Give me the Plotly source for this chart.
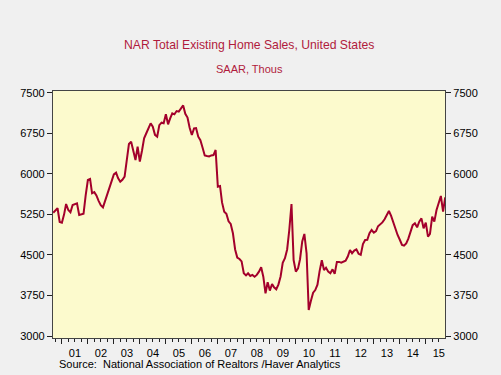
import pandas as pd
import plotly.graph_objects as go

# Monthly, Aug 2000 - Sep 2015 (SAAR, thousands)
start_month = "2000-08-01"
sales = [
    5280, 5320, 5362, 5110, 5096, 5250, 5441, 5330, 5288, 5423, 5440, 5454,
    5238, 5250, 5260, 5600, 5885, 5904, 5639, 5660, 5600, 5500, 5420, 5380,
    5500, 5640, 5750, 5880, 5990, 6020, 5920, 5854, 5890, 5946, 6250, 6551,
    6594, 6400, 6255, 6500, 6224, 6430, 6656, 6750, 6850, 6933, 6870, 6720,
    6686, 6900, 6945, 6933, 7100, 6915, 7020, 7118, 7100, 7160, 7150, 7200,
    7265, 7110, 7040, 6850, 6717, 6840, 6845, 6686, 6620, 6480, 6340, 6329,
    6320, 6340, 6347, 6440, 5762, 5774, 5470, 5300, 5260, 5120, 5072, 4900,
    4600, 4450, 4424, 4380, 4160, 4120, 4160, 4110, 4130, 4097, 4130, 4190,
    4270, 4097, 3790, 3993, 3840, 3962, 3900, 3864, 3950, 4100, 4355, 4440,
    4600, 4960, 5441, 4405, 4190, 4250, 4420, 4750, 4887, 4530, 3480, 3650,
    3800, 3850, 3950, 4200, 4400, 4220, 4263, 4190, 4160, 4233, 4150, 4370,
    4370, 4355, 4370, 4393, 4470, 4590, 4530, 4580, 4603, 4520, 4500, 4700,
    4775, 4780, 4900, 4960, 4910, 4940, 5030, 5065, 5100, 5158, 5250, 5312,
    5220, 5100, 4950, 4868, 4780, 4683, 4670, 4713, 4800, 4950, 5050, 5084,
    5010, 5115, 5176, 4992, 5096, 4837, 4887, 5207, 5115, 5330, 5454, 5589,
    5300, 5565,
]
dates = pd.date_range(start_month, periods=len(sales), freq="MS") + pd.offsets.MonthEnd(0)

y_ticks = [3000, 3750, 4500, 5250, 6000, 6750, 7500]
title_text = "NAR Total Existing Home Sales, United States"
subtitle_text = "SAAR, Thous"
source_text = "Source:  National Association of Realtors /Haver Analytics"

LINE = "#A3002B"
RED_TXT = "#B01B3C"
FONT = "Arial, Liberation Sans, sans-serif"

fig = go.Figure()
fig.add_trace(go.Scatter(x=dates, y=sales, mode="lines",
                         line=dict(color=LINE, width=2), showlegend=False,
                         hoverinfo="x+y"))
fig.add_trace(go.Scatter(x=dates, y=sales, mode="lines", yaxis="y2",
                         line=dict(color=LINE, width=0), opacity=0,
                         showlegend=False, hoverinfo="skip"))

yr = [2963, 7531]
axis_common = dict(range=yr, tickvals=y_ticks, ticks="outside", ticklen=5,
                   tickwidth=1, tickcolor="#222", showgrid=False, zeroline=False,
                   showline=True, linecolor="#444", linewidth=1.2,
                   tickfont=dict(family=FONT, size=11, color="#000"))

fig.update_layout(
    width=501, height=375,
    margin=dict(l=53, r=56, t=91, b=37),
    paper_bgcolor="#F0F0F0", plot_bgcolor="#FCFACD",
    font=dict(family=FONT),
    xaxis=dict(range=[dates[0] - pd.Timedelta(days=3), dates[-1] - pd.Timedelta(days=3)],
               type="date", dtick="M12", tick0="2000-01-01", tickformat="%y",
               ticklabelmode="period", ticks="outside", ticklen=5, tickwidth=1,
               tickcolor="#222",
               minor=dict(dtick="M3", ticks="outside", ticklen=3, tickcolor="#222",
                          showgrid=False),
               showgrid=False, zeroline=False, showline=True, mirror=True,
               linecolor="#444", linewidth=1.2,
               tickfont=dict(family=FONT, size=11, color="#000")),
    yaxis=dict(side="left", **axis_common),
    yaxis2=dict(side="right", overlaying="y", anchor="x", **axis_common),
    annotations=[
        dict(text=title_text, x=0.5, y=(338 - 45) / 247, xref="paper", yref="paper",
             xanchor="center", yanchor="middle", showarrow=False,
             font=dict(family=FONT, size=12.2, color=RED_TXT)),
        dict(text=subtitle_text, x=0.5, y=(338 - 69) / 247, xref="paper", yref="paper",
             xanchor="center", yanchor="middle", showarrow=False,
             font=dict(family=FONT, size=11, color=RED_TXT)),
        dict(text=source_text, x=(57 - 53) / 392, y=(338 - 364) / 247,
             xref="paper", yref="paper", xanchor="left", yanchor="middle",
             showarrow=False, font=dict(family=FONT, size=11, color="#000")),
    ],
)

fig.write_html("out.html", config={"displayModeBar": False},
               post_script="document.body.style.margin='0';document.body.style.background='#F0F0F0';")
